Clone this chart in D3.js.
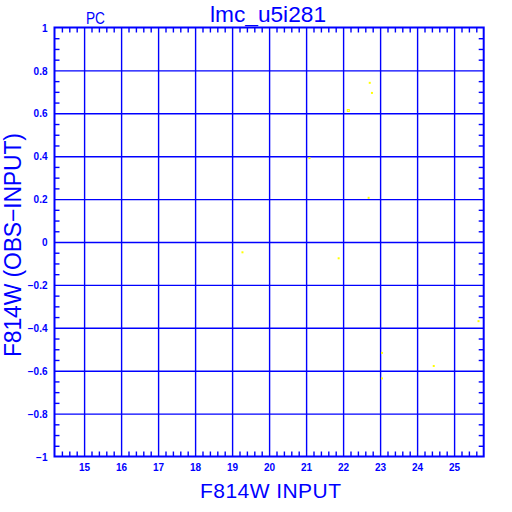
<!DOCTYPE html>
<html><head><meta charset="utf-8">
<script src="https://cdn.jsdelivr.net/npm/d3@7"></script>
<style>body{margin:0;background:#fff}svg{display:block}</style>
</head><body>
<script>
const xMajor = [15,16,17,18,19,20,21,22,23,24,25];
const yMajor = [-1,-0.8,-0.6,-0.4,-0.2,0,0.2,0.4,0.6,0.8,1];
const filledX = [22.72, 22.78, 22.69, 21.09, 19.28, 21.88, 25.66, 23.05, 24.45, 23.05];
const filledY = [0.742, 0.695, 0.206, 0.391, -0.048, -0.076, -0.369, -0.517, -0.578, -0.636];
const openX = [22.14];
const openY = [0.613];
const titleText = "lmc_u5i281";
const tagText = "PC";
const xLabel = "F814W INPUT";
const yLabel = "F814W (OBS\u2212INPUT)";

const W = 512, H = 512, blue = "#0000ff", yellow = "#ffff00";
const x = d3.scaleLinear().domain([14.2, 25.8]).range([54.5, 483.7]);
const y = d3.scaleLinear().domain([-1, 1]).range([456.5, 27.5]);
const [x0, x1] = x.range(), [y0, y1] = y.range();

const svg = d3.select("body").append("svg").attr("width", W).attr("height", H);
svg.append("rect").attr("width", W).attr("height", H).attr("fill", "#fff");

const xMinor = d3.range(72, 129, 1).map(v => v / 5).filter(v => v > 14.2 && v < 25.8 && !xMajor.includes(Math.round(v*100)/100));
const yMinor = d3.range(-20, 21).map(v => v / 20).filter(v => Math.abs(v) < 1 && Math.abs(Math.round(v*5) - v*5) > 1e-6);

function style(g) {
  g.select(".domain").remove();
  g.selectAll("line").attr("stroke", blue);
  g.selectAll("text").attr("fill", blue).attr("font-family", "Liberation Sans, Arial, sans-serif")
    .attr("font-size", 10).attr("font-weight", "bold");
}
// grid
svg.append("g").attr("transform", `translate(0,${y0})`)
  .call(d3.axisBottom(x).tickValues(xMajor).tickSize(-(y0 - y1)).tickFormat(""))
  .call(style).selectAll("line").attr("stroke-width", 1.4);
svg.append("g").attr("transform", `translate(${x0},0)`)
  .call(d3.axisLeft(y).tickValues(yMajor.filter(v => Math.abs(v) < 1)).tickSize(-(x1 - x0)).tickFormat(""))
  .call(style).selectAll("line").attr("stroke-width", 1.4);
// minor ticks (inward) on all four sides
svg.append("g").attr("transform", `translate(0,${y0})`).call(d3.axisBottom(x).tickValues(xMinor).tickSize(-5).tickFormat("")).call(style);
svg.append("g").attr("transform", `translate(0,${y1})`).call(d3.axisTop(x).tickValues(xMinor).tickSize(-5).tickFormat("")).call(style);
svg.append("g").attr("transform", `translate(${x0},0)`).call(d3.axisLeft(y).tickValues(yMinor).tickSize(-5).tickFormat("")).call(style);
svg.append("g").attr("transform", `translate(${x1},0)`).call(d3.axisRight(y).tickValues(yMinor).tickSize(-5).tickFormat("")).call(style);
svg.selectAll("g line").filter(function(){return !this.getAttribute("stroke-width");}).attr("stroke-width", 1.4);
// labels
svg.append("g").attr("transform", `translate(0,${y0})`)
  .call(d3.axisBottom(x).tickValues(xMajor).tickSize(0).tickPadding(7.5).tickFormat(d3.format("d"))).call(style);
svg.append("g").attr("transform", `translate(${x0},0)`)
  .call(d3.axisLeft(y).tickValues(yMajor).tickSize(0).tickPadding(7).tickFormat(d => d3.format("")(d))).call(style)
  .selectAll("text").attr("dy", "0.36em");
// frame
svg.append("rect").attr("x", x0).attr("y", y1).attr("width", x1 - x0).attr("height", y0 - y1)
  .attr("fill", "none").attr("stroke", blue).attr("stroke-width", 2);
// points
svg.append("g").selectAll("rect").data(d3.range(filledX.length)).join("rect")
  .attr("x", i => x(filledX[i]) - 1).attr("y", i => y(filledY[i]) - 1)
  .attr("width", 2).attr("height", 2).attr("fill", yellow);
svg.append("g").selectAll("rect").data(d3.range(openX.length)).join("rect")
  .attr("x", i => x(openX[i]) - 1).attr("y", i => y(openY[i]) - 1)
  .attr("width", 2).attr("height", 2).attr("fill", "none").attr("stroke", yellow).attr("stroke-width", 1);
// texts
const font = "Liberation Sans, Arial, sans-serif";
svg.append("text").attr("x", 210).attr("y", 22).attr("font-family", font).attr("font-size", 22)
  .attr("fill", blue).attr("textLength", 116).attr("lengthAdjust", "spacingAndGlyphs").text(titleText);
svg.append("text").attr("x", 86).attr("y", 24).attr("font-family", font).attr("font-size", 16)
  .attr("fill", blue).attr("textLength", 19).attr("lengthAdjust", "spacingAndGlyphs").text(tagText);
svg.append("text").attr("x", 200).attr("y", 498).attr("font-family", font).attr("font-size", 21)
  .attr("fill", blue).attr("textLength", 141).attr("lengthAdjust", "spacing").text(xLabel);
svg.append("text").attr("transform", "translate(21,357) rotate(-90)").attr("font-family", font).attr("font-size", 23)
  .attr("fill", blue).attr("textLength", 224).attr("lengthAdjust", "spacing").text(yLabel);
</script>
</body></html>
